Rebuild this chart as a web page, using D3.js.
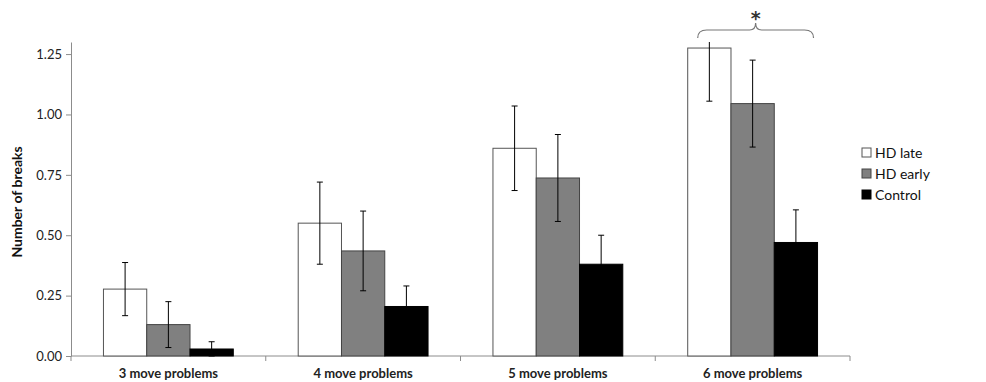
<!DOCTYPE html>
<html>
<head>
<meta charset="utf-8">
<script src="https://cdn.jsdelivr.net/npm/d3@7"></script>
<style>
  body { margin: 0; background: #fff; }
  svg { font-family: Lato, 'Open Sans', sans-serif; }
</style>
</head>
<body>
<svg class="breaks" width="986" height="382"></svg>
<script>
const categories = ['3 move problems', '4 move problems', '5 move problems', '6 move problems'];
const groups = ['HD late', 'HD early', 'Control'];
const hdLate = [0.277, 0.55, 0.86, 1.275];
const hdLateErr = [0.11, 0.17, 0.175, 0.22];
const hdEarly = [0.13, 0.435, 0.737, 1.045];
const hdEarlyErr = [0.095, 0.165, 0.18, 0.18];
const control = [0.029, 0.205, 0.38, 0.47];
const controlErr = [0.03, 0.085, 0.12, 0.135];
const yTicks = [0, 0.25, 0.5, 0.75, 1, 1.25];

function drawBreaks(){
  const svg = d3.select('svg.breaks');
  const margin = {left: 71, top: 42, right: 136, bottom: 26};
  const width = 986 - margin.left - margin.right;
  const height = 382 - margin.top - margin.bottom;

  const colors = {'HD late': '#ffffff', 'HD early': '#808080', 'Control': '#000000'};
  const strokes = {'HD late': '#555', 'HD early': '#444', 'Control': '#000'};
  const series = [
    {name: 'HD late', vals: hdLate, err: hdLateErr},
    {name: 'HD early', vals: hdEarly, err: hdEarlyErr},
    {name: 'Control', vals: control, err: controlErr}
  ];

  const x0 = d3.scaleBand().domain(categories).range([0, width]).padding(0);
  const x1 = d3.scaleBand().domain(groups).range([0, x0.bandwidth()])
              .paddingInner(0).paddingOuter(0.75);
  const y = d3.scaleLinear().domain([0, 1.3]).range([height, 0]);

  const g = svg.append('g')
            .attr('transform', `translate(${margin.left}, ${margin.top})`);

  svg.append('defs').append('clipPath').attr('id', 'plotClip')
    .append('rect')
    .attr('x', -5).attr('y', 0).attr('width', width + 10).attr('height', height + 5);

  // y axis
  const yAxis = g.append('g')
      .call(d3.axisLeft(y).tickValues(yTicks).tickSize(5).tickSizeOuter(0)
             .tickFormat(d3.format('.2f')));
  yAxis.select('.domain').attr('stroke', '#8c8c8c');
  yAxis.selectAll('.tick line').attr('stroke', '#8c8c8c');
  yAxis.selectAll('.tick text')
      .attr('x', -9)
      .style('font-size', '13px')
      .style('font-family', 'Lato, sans-serif')
      .attr('fill', '#222');

  // x axis
  const xAxis = g.append('g')
      .attr('transform', `translate(0, ${height})`);
  xAxis.append('line')
      .attr('x1', 0).attr('x2', width)
      .attr('stroke', '#8c8c8c');
  xAxis.selectAll('line.xtick')
      .data(d3.range(categories.length + 1))
      .enter()
      .append('line')
      .attr('class', 'xtick')
      .attr('x1', i => i * x0.step())
      .attr('x2', i => i * x0.step())
      .attr('y1', 0).attr('y2', 5)
      .attr('stroke', '#8c8c8c');
  xAxis.selectAll('text.cat')
      .data(categories)
      .enter()
      .append('text')
      .attr('class', 'cat')
      .attr('x', d => x0(d) + x0.bandwidth() / 2)
      .attr('y', 22)
      .attr('text-anchor', 'middle')
      .style('font-size', '13px')
      .style('font-weight', 700)
      .attr('fill', '#222')
      .text(d => d);

  // bars
  const barG = g.append('g').attr('clip-path', 'url(#plotClip)');
  series.forEach(s => {
    const sg = barG.append('g').attr('class', 'series');
    sg.selectAll('rect')
      .data(categories)
      .enter()
      .append('rect')
      .attr('x', d => x0(d) + x1(s.name))
      .attr('y', (d, i) => y(s.vals[i]))
      .attr('width', x1.bandwidth())
      .attr('height', (d, i) => y(0) - y(s.vals[i]))
      .attr('fill', colors[s.name])
      .attr('stroke', strokes[s.name])
      .attr('stroke-width', 1);
  });

  // error bars
  series.forEach(s => {
    const eg = barG.append('g').attr('class', 'errs')
        .attr('stroke', '#000').attr('stroke-width', 1);
    categories.forEach((c, i) => {
      const cx = x0(c) + x1(s.name) + x1.bandwidth() / 2;
      const hi = y(s.vals[i] + s.err[i]);
      const lo = y(Math.max(0, s.vals[i] - s.err[i]));
      eg.append('line').attr('x1', cx).attr('x2', cx).attr('y1', hi).attr('y2', lo);
      eg.append('line').attr('x1', cx - 3).attr('x2', cx + 3).attr('y1', hi).attr('y2', hi);
      eg.append('line').attr('x1', cx - 3).attr('x2', cx + 3).attr('y1', lo).attr('y2', lo);
    });
  });

  // significance brace over the last group
  const last = categories[categories.length - 1];
  const bx0 = x0(last) + x1('HD late') + 10;
  const bx1 = x0(last) + x1('Control') + x1.bandwidth() - 4;
  const bm = (bx0 + bx1) / 2;
  const by = -12;
  svg.append('path')
    .attr('transform', `translate(${margin.left}, ${margin.top})`)
    .attr('d', `M${bx0},${by + 8} Q${bx0},${by} ${bx0 + 9},${by} L${bm - 6},${by} Q${bm},${by} ${bm},${by - 7} Q${bm},${by} ${bm + 6},${by} L${bx1 - 9},${by} Q${bx1},${by} ${bx1},${by + 8}`)
    .attr('fill', 'none')
    .attr('stroke', '#777')
    .attr('stroke-width', 1.2);
  svg.append('text')
    .attr('x', margin.left + bm)
    .attr('y', margin.top + by - 5)
    .attr('text-anchor', 'middle')
    .style('font-size', '19px')
    .style('font-weight', 700)
    .style('font-family', "'DejaVu Sans', sans-serif")
    .attr('fill', '#333')
    .text('*');

  // y title
  svg.append('text')
    .attr('transform', `translate(22, ${margin.top + height / 2 + 3}) rotate(-90)`)
    .attr('text-anchor', 'middle')
    .style('font-size', '14px')
    .style('font-weight', 700)
    .attr('fill', '#111')
    .text('Number of breaks');

  // legend
  const leg = svg.append('g').attr('transform', 'translate(862, 153)');
  const li = leg.selectAll('g.li')
      .data(groups)
      .enter()
      .append('g')
      .attr('class', 'li')
      .attr('transform', (d, i) => `translate(0, ${i * 21})`);
  li.append('rect')
    .attr('x', 0).attr('y', -5)
    .attr('width', 9).attr('height', 9)
    .attr('fill', d => colors[d])
    .attr('stroke', d => strokes[d]);
  li.append('text')
    .attr('x', 13).attr('y', 0)
    .attr('dy', '0.35em')
    .style('font-size', '14px')
    .attr('fill', '#111')
    .text(d => d);
}

drawBreaks();
</script>
</body>
</html>
